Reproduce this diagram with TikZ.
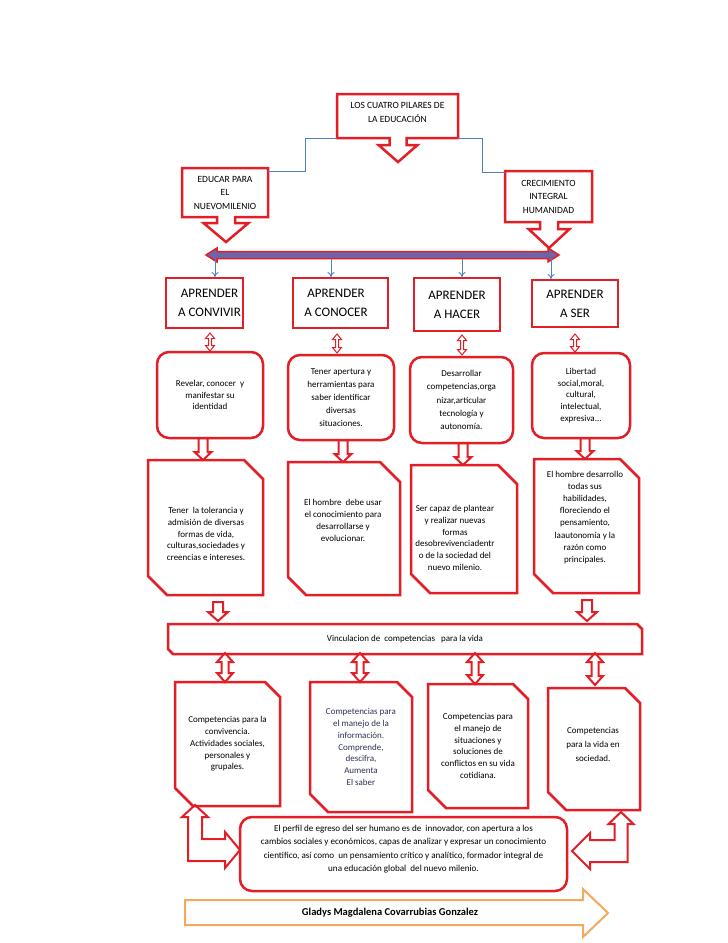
\documentclass[tikz,border=0pt]{standalone}
\usepackage{fontspec}
\setmainfont{Carlito}
\usetikzlibrary{calc,arrows.meta}
\definecolor{rd}{RGB}{226,30,38}
\definecolor{bl}{RGB}{79,129,189}
\definecolor{barfill}{RGB}{110,100,170}
\definecolor{org}{RGB}{244,168,98}
\definecolor{dtxt}{RGB}{45,50,85}
\newcommand\fsb{\fontsize{9}{11.8}\selectfont}
\newcommand\fcap{\fontsize{9.5}{13.5}\selectfont}
\newcommand\fbig{\fontsize{13}{19}\selectfont}
\newcommand\callout[6]{%
 \draw[redline] let \p1=(#1.south west), \p2=(#1.north east), \p3=($(#1.south)+(#2,0)$) in
 (\x1,\y1) -- (\x1,\y2) -- (\x2,\y2) -- (\x2,\y1) -- (\x3+#3pt,\y1) -- (\x3+#3pt,\y1-#5pt) -- (\x3+#4pt,\y1-#5pt) -- (\x3,\y1-#5pt-#6pt) -- (\x3-#4pt,\y1-#5pt) -- (\x3-#3pt,\y1-#5pt) -- (\x3-#3pt,\y1) -- cycle;}
\newcommand\chamf[3]{%
 \draw[redline] let \p1=(#1.south west), \p2=(#1.north east) in
 (\x1,\y2) -- (\x2-#2pt,\y2) -- (\x2,\y2-#2pt) -- (\x2,\y1) -- (\x1+#3pt,\y1) -- (\x1,\y1+#3pt) -- cycle;}
\newcommand\bdn[5]{%
 \draw[blkarrow] let \p1=#1, \p2=#2 in
 (\x1-#3pt,\y1) -- (\x1+#3pt,\y1) -- (\x1+#3pt,\y2+#5pt) -- (\x1+#4pt,\y2+#5pt) -- (\x1,\y2) -- (\x1-#4pt,\y2+#5pt) -- (\x1-#3pt,\y2+#5pt) -- cycle;}
\newcommand\bdbl[6]{%
 \draw[#6] let \p1=#1, \p2=#2 in
 (\x1,\y1) -- (\x1+#4pt,\y1-#5pt) -- (\x1+#3pt,\y1-#5pt) -- (\x1+#3pt,\y2+#5pt) -- (\x1+#4pt,\y2+#5pt) -- (\x1,\y2) -- (\x1-#4pt,\y2+#5pt) -- (\x1-#3pt,\y2+#5pt) -- (\x1-#3pt,\y1-#5pt) -- (\x1-#4pt,\y1-#5pt) -- cycle;}
\tikzset{
  base/.style={rectangle, inner sep=0pt, outer sep=0pt, align=center, font=\fsb},
  sqbox/.style={base, draw=rd, line width=2.5pt},
  rbox/.style={sqbox, rounded corners=12pt},
  noline/.style={base},
  txt/.style={inner sep=0pt, align=center, font=\fsb},
  redline/.style={draw=rd, line width=2.5pt, line join=miter},
  blkarrow/.style={draw=rd, line width=2pt, line join=miter},
  thinarrow/.style={draw=rd, line width=1pt},
  conn/.style={draw=bl, line width=1pt},
  barr/.style={draw=bl, line width=0.9pt, -{To[length=5pt,width=7pt]}},
  bararrow/.style={draw=rd, line width=1.5pt, fill=barfill, line join=miter},
  orgarrow/.style={draw=org, line width=2pt, line join=miter},
}
\begin{document}
\begin{tikzpicture}[x=1pt,y=-1pt]
\fill[white] (0,0) rectangle (728,943);
\useasboundingbox (0,0) rectangle (728,943);

% ---- top level
\node[noline, minimum width=121, minimum height=44] (top) at (397.5,116) {};
\callout{top}{0.5}{8.5}{19.5}{7}{17}
\node[txt, font=\fcap] (topt) at (397.5,112.5) {LOS CUATRO PILARES DE\\LA EDUCACIÓN};

\node[noline, font=\fcap, minimum width=86, minimum height=49] (lft) at (225,192.5) {EDUCAR PARA\\EL\\NUEVOMILENIO};
\callout{lft}{1}{9}{22.5}{6}{19}
\node[noline, font=\fcap, minimum width=87, minimum height=51] (rgt) at (548.5,196.5) {CRECIMIENTO\\INTEGRAL\\HUMANIDAD};
\callout{rgt}{0.5}{9}{20.5}{7}{19}

\draw[conn] (top.south west) -- ++(-32,0) |- ($(lft.north east)+(0,3)$);
\draw[conn] (top.south east) -- ++(24,0) |- ($(rgt.north west)+(0,1)$);

% ---- bar
\coordinate (barL) at (206,255);
\coordinate (barR) at (559,255);
\draw[bararrow] let \p1=(barL), \p2=(barR) in
 (\x1,\y1) -- (\x1+11pt,\y1+7pt) -- (\x1+11pt,\y1+3.5pt) -- (\x2-11pt,\y1+3.5pt) -- (\x2-11pt,\y1+7pt) -- (\x2,\y1) -- (\x2-11pt,\y1-7pt) -- (\x2-11pt,\y1-3.5pt) -- (\x1+11pt,\y1-3.5pt) -- (\x1+11pt,\y1-7pt) -- cycle;

% ---- APRENDER row
\node[sqbox, minimum width=77, minimum height=50] (a1) at (204.5,303) {};
\node[txt, font=\fbig] (a1t) at (209.5,303) {APRENDER\\A CONVIVIR};
\node[sqbox, minimum width=95, minimum height=50] (a2) at (340.5,303) {};
\node[txt, font=\fbig] (a2t) at (336,303) {APRENDER\\A CONOCER};
\node[sqbox, font=\fbig, minimum width=86, minimum height=53] (a3) at (457,304.5) {APRENDER\\A HACER};
\node[sqbox, font=\fbig, minimum width=86, minimum height=47] (a4) at (575,303.5) {APRENDER\\A SER};

\coordinate (k1) at (215,259);
\coordinate (k2) at (331,259);
\coordinate (k3) at (462,259);
\coordinate (k4) at (551,259);
\draw[barr] (k1) -- ($(k1 |- a1.north)+(0,-1)$);
\draw[barr] (k2) -- ($(k2 |- a2.north)+(0,-1)$);
\draw[barr] (k3) -- ($(k3 |- a3.north)+(0,-1)$);
\draw[barr] (k4) -- ($(k4 |- a4.north)+(0,-1)$);

% ---- row 2 (rounded)
\node[rbox, minimum width=106, minimum height=86] (b1) at (210,395) {Revelar, conocer\ \ y\\manifestar su\\identidad};
\node[rbox, minimum width=106, minimum height=85, font=\fontsize{9}{13}\selectfont] (b2) at (341,397.5) {Tener apertura y\\herramientas para\\saber identificar\\diversas\\situaciones.};
\node[rbox, minimum width=103, minimum height=86, font=\fontsize{9}{13.2}\selectfont] (b3) at (461.5,400) {Desarrollar\\competencias,orga\\nizar,articular\\tecnología y\\autonomía.};
\node[rbox, minimum width=98, minimum height=85] (b4) at (581,395.5) {Libertad\\social,moral,\\cultural,\\intelectual,\\expresiva...};

\bdbl{($(a1.south)+(5.5,5)$)}{($(b1.north)+(0,-1)$)}{1.5}{4.5}{5.5}{thinarrow}
\bdbl{($(a2.south)+(-3.5,6)$)}{($(b2.north)+(0,-2)$)}{1.5}{4.5}{5.5}{thinarrow}
\bdbl{($(a3.south)+(5,4)$)}{($(b3.north)+(0,-2)$)}{1.5}{4.5}{5.5}{thinarrow}
\bdbl{($(a4.south)+(0,7)$)}{($(b4.north)+(0,-1)$)}{1.5}{4.5}{5.5}{thinarrow}

% ---- row 3 (snipped)
\node[noline, minimum width=115, minimum height=135] (c1) at (205.5,527.5) {};
\chamf{c1}{19}{19}
\node[txt] (c1t) at (206,534) {Tener\ \ la tolerancia y\\admisión de diversas\\formas de vida,\\culturas,sociedades y\\creencias e intereses.};
\node[noline, minimum width=112, minimum height=133] (c2) at (344,528.5) {};
\chamf{c2}{20}{18}
\node[txt] (c2t) at (343,520.5) {El hombre\ \ debe usar\\el conocimiento para\\desarrollarse y\\evolucionar.};
\node[noline, minimum width=106, minimum height=128] (c3) at (464,529) {};
\chamf{c3}{19}{19}
\node[txt] (c3t) at (455,538) {Ser capaz de plantear\\y realizar nuevas\\formas\\desobrevivenciadentr\\o de la sociedad del\\nuevo milenio.};
\node[noline, minimum width=105, minimum height=134] (c4) at (586.5,526) {};
\chamf{c4}{19}{19}
\node[txt, font=\fontsize{9}{12.1}\selectfont] (c4t) at (585,517.5) {El hombre desarrollo\\todas sus\\habilidades,\\floreciendo el\\pensamiento,\\laautonomía y la\\razón como\\principales.};

\bdn{($(b1.south)+(-7,0)$)}{(c1.north)}{4.5}{8.5}{8}
\bdn{($(b2.south)+(2,0)$)}{(c2.north)}{4.5}{8.5}{8}
\bdn{($(b3.south)+(1.5,0)$)}{(c3.north)}{4.5}{8.5}{8}
\bdn{($(b4.south)+(4,0)$)}{(c4.north)}{4.5}{8.5}{8}

% ---- vinculacion
\node[noline, minimum width=474, minimum height=30] (vin) at (405,639) {Vinculacion de\ \ competencias\ \ \ para la vida};
\chamf{vin}{5}{5}

\bdn{($(c1.south)+(12.5,7)$)}{($(vin.north)+(0,-3)$)}{5}{10}{9}
\bdn{($(c4.south)+(0.5,7)$)}{($(vin.north)+(0,-3)$)}{5}{10}{9}

% ---- row 4
\node[noline, minimum width=105, minimum height=124] (d1) at (227.5,744) {Competencias para la\\convivencia.\\Actividades sociales,\\personales y\\grupales.};
\chamf{d1}{15}{18}
\node[noline, minimum width=102, minimum height=130, text=dtxt] (d2) at (361,747) {Competencias para\\el manejo de la\\información.\\Comprende,\\descifra,\\Aumenta\\El saber};
\chamf{d2}{15}{18}
\node[noline, minimum width=100, minimum height=124] (d3) at (478,746) {Competencias para\\el manejo de\\situaciones y\\soluciones de\\conflictos en su vida\\cotidiana.};
\chamf{d3}{15}{18}
\node[noline, minimum width=92, minimum height=122] (d4) at (594,749) {};
\chamf{d4}{15}{18}
\node[txt, font=\fontsize{9}{14}\selectfont] (d4t) at (593,744) {Competencias\\para la vida en\\sociedad.};

\bdbl{($(d1.north |- vin.south)+(-2.5,-1)$)}{(d1.north)}{3.5}{8}{9}{blkarrow}
\bdbl{($(d2.north |- vin.south)+(-1,-1)$)}{(d2.north)}{3.5}{8}{9}{blkarrow}
\bdbl{($(d3.north |- vin.south)+(-3,-1)$)}{(d3.north)}{3.5}{8}{9}{blkarrow}
\bdbl{($(d4.north |- vin.south)+(1,-1)$)}{($(d4.north)+(0,-3)$)}{3.5}{8}{9}{blkarrow}

% ---- bottom box
\node[rbox, minimum width=327, minimum height=74] (e) at (403.5,854) {};
\node[txt, font=\fontsize{9.1}{13.3}\selectfont] (et) at (403.5,849) {El perfil de egreso del ser humano es de\ \ innovador, con apertura a los\\cambios sociales y económicos, capas de analizar y expresar un conocimiento\\científico, así como\ \ un pensamiento crítico y analítico, formador integral de\\una educación global\ \ del nuevo milenio.};

% bent arrows
\draw[blkarrow] let \p1=($(d1.south west)+(20,-1)$), \p2=($(e.west)+(0,-4)$) in
 (\x1,\y1) -- (\x1+13pt,\y1-12pt) -- (\x1+7pt,\y1-12pt) -- (\x1+7pt,\y2+11pt) -- (\x2-15pt,\y2+11pt) -- (\x2-15pt,\y2+18pt) -- (\x2,\y2) -- (\x2-15pt,\y2-18pt) -- (\x2-15pt,\y2-11pt) -- (\x1-7pt,\y2-11pt) -- (\x1-7pt,\y1-12pt) -- (\x1-13pt,\y1-12pt) -- cycle;
\draw[blkarrow] let \p1=($(d4.south east)+(-19,2)$), \p2=($(e.east)+(5,-3)$) in
 (\x1,\y1) -- (\x1+12.5pt,\y1-12pt) -- (\x1+6.5pt,\y1-12pt) -- (\x1+6.5pt,\y2-11pt) -- (\x2+18pt,\y2-11pt) -- (\x2+18pt,\y2-18pt) -- (\x2,\y2) -- (\x2+18pt,\y2+18pt) -- (\x2+18pt,\y2+11pt) -- (\x1-6.5pt,\y2+11pt) -- (\x1-6.5pt,\y1-12pt) -- (\x1-12.5pt,\y1-12pt) -- cycle;

% ---- author arrow
\node[txt, font=\fontsize{10.5}{12}\selectfont\bfseries] (gl) at (390,912.5) {Gladys Magdalena Covarrubias Gonzalez};
\draw[orgarrow] (185,900) -- (583,900) -- (583,889) -- (608,913) -- (583,937) -- (583,925) -- (185,925) -- cycle;
\end{tikzpicture}
\end{document}
